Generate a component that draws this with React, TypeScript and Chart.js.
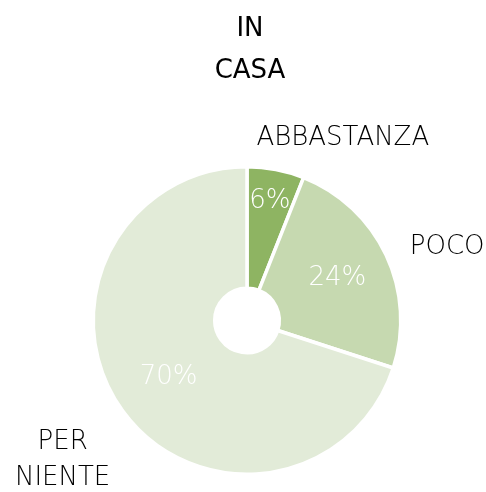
import React, { useEffect, useRef } from "react";
import { Chart, registerables } from "chart.js";

Chart.register(...registerables);

const TITLE_LINES = ["IN", "CASA"];
const CATEGORIES = ["ABBASTANZA", "POCO", "PER NIENTE"];
const CATEGORY_LINES = [["ABBASTANZA"], ["POCO"], ["PER", "NIENTE"]];
const VALUES = [6, 24, 70];
const COLORS = ["#8eb462", "#c6d9b0", "#e2ebd8"];

// label placement styling (relative to arc geometry)
const VALUE_RADIUS = [0.79, 0.65, 0.63];
const NAME_OFFSET = [
  [67, -31],
  [61, -8],
  [-60, 49],
];

const FONT = "'DejaVu Sans', 'Open Sans', sans-serif";

const labelPlugin = {
  id: "sliceLabels",
  afterDatasetsDraw(chart: any) {
    const ctx = chart.ctx;
    const meta = chart.getDatasetMeta(0);
    const total = VALUES.reduce((a, b) => a + b, 0);
    ctx.save();
    ctx.textAlign = "center";
    ctx.textBaseline = "middle";
    meta.data.forEach((arc: any, i: number) => {
      const p = arc.getProps(["x", "y", "startAngle", "endAngle", "outerRadius"], true);
      const mid = (p.startAngle + p.endAngle) / 2;
      // value
      const rv = p.outerRadius * VALUE_RADIUS[i];
      ctx.fillStyle = "#ffffff";
      ctx.font = `300 26px ${FONT}`;
      ctx.fillText(
        Math.round((VALUES[i] / total) * 100) + "%",
        p.x + Math.cos(mid) * rv,
        p.y + Math.sin(mid) * rv
      );
      // category name
      const ax = p.x + Math.cos(mid) * p.outerRadius + NAME_OFFSET[i][0];
      const ay = p.y + Math.sin(mid) * p.outerRadius + NAME_OFFSET[i][1];
      ctx.fillStyle = "#000000";
      ctx.font = `300 26px ${FONT}`;
      const lines = CATEGORY_LINES[i];
      const lh = 36;
      lines.forEach((ln, j) => {
        ctx.fillText(ln, ax, ay + (j - (lines.length - 1) / 2) * lh);
      });
    });
    // title
    const ca = chart.chartArea;
    const cx = (ca.left + ca.right) / 2 + 3;
    ctx.fillStyle = "#000000";
    ctx.font = `400 26px ${FONT}`;
    ctx.textBaseline = "alphabetic";
    TITLE_LINES.forEach((ln, j) => {
      ctx.fillText(ln, cx, 36 + j * 42);
    });
    ctx.restore();
  },
};

export default function App() {
  const ref = useRef<HTMLCanvasElement>(null);
  useEffect(() => {
    if (!ref.current) return;
    const chart = new Chart(ref.current, {
      type: "doughnut",
      data: {
        labels: CATEGORIES,
        datasets: [
          {
            data: VALUES,
            backgroundColor: COLORS,
            borderColor: "#ffffff",
            borderWidth: 3.5,
          },
        ],
      },
      options: {
        responsive: false,
        animation: false,
        cutout: "21%",
        layout: { padding: { top: 165, bottom: 16, left: 91, right: 83 } },
        plugins: {
          legend: { display: false },
          title: { display: false },
          tooltip: { enabled: false },
        },
      },
      plugins: [labelPlugin],
    });
    return () => chart.destroy();
  }, []);
  return (
    <div style={{ position: "fixed", left: 0, top: 0, width: 486, height: 492, background: "#fff" }}>
      <canvas ref={ref} width={486} height={492} />
    </div>
  );
}
